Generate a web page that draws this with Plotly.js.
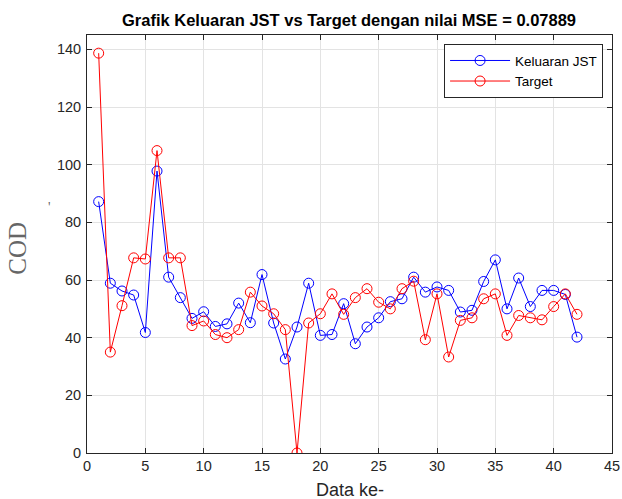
<!DOCTYPE html>
<html>
<head>
<meta charset="utf-8">
<script src="https://cdn.plot.ly/plotly-3.0.1.min.js"></script>
<style>html,body{margin:0;padding:0;background:#fff;}#chart{width:622px;height:499px;}</style>
</head>
<body>
<div id="chart"></div>
<script>
const dataIndex = Array.from({length: 42}, (_, i) => i + 1);
const keluaranJST = [87.2, 58.9, 56.2, 54.8, 41.8, 97.8, 61.0, 53.9, 46.7, 49.0,
  43.9, 44.8, 52.0, 45.2, 61.9, 45.1, 32.6, 43.7, 58.9, 40.8,
  41.1, 51.8, 37.9, 43.7, 46.9, 52.5, 53.5, 61.0, 55.8, 57.6,
  56.4, 48.9, 49.5, 59.5, 67.0, 50.0, 60.7, 50.8, 56.4, 56.4,
  55.0, 40.2];
const target = [138.7, 35.0, 51.1, 67.7, 67.3, 104.9, 67.7, 67.7, 44.2, 45.8,
  41.1, 40.0, 42.8, 55.8, 51.0, 48.3, 42.8, 0, 45.1, 48.3,
  55.2, 48.1, 53.9, 57.0, 52.3, 50.0, 57.0, 59.6, 39.3, 55.2,
  33.3, 46.0, 46.9, 53.5, 55.2, 40.8, 47.7, 46.9, 46.2, 50.8,
  55.2, 48.1];
const seriesNames = ['Keluaran JST', 'Target'];
const xTicks = [0, 5, 10, 15, 20, 25, 30, 35, 40, 45];
const yTicks = [0, 20, 40, 60, 80, 100, 120, 140];

const mk = (y, name, color) => ({
  x: dataIndex, y: y, name: name, type: 'scatter', mode: 'lines+markers',
  line: {color: color, width: 1},
  marker: {symbol: 'circle-open', size: 10, color: color, line: {width: 1, color: color}}
});

const sans = 'Liberation Sans, Arial, sans-serif';
const axisCommon = {
  showline: true, mirror: 'ticks', linecolor: '#262626', linewidth: 1,
  ticks: 'inside', ticklen: 5, tickcolor: '#262626',
  showgrid: true, gridcolor: '#e3e3e3', gridwidth: 1, zeroline: false,
  tickfont: {family: sans, size: 14.5, color: '#262626'}
};

const layout = {
  width: 622, height: 499,
  margin: {l: 87, r: 10, t: 35, b: 46},
  paper_bgcolor: '#fff', plot_bgcolor: '#fff',
  showlegend: true,
  title: {
    text: '<b>Grafik Keluaran JST vs Target dengan nilai MSE = 0.07889</b>',
    font: {family: sans, size: 16.5, color: '#000'},
    x: 349/622, xanchor: 'center', y: 1 - 20/499, yanchor: 'middle', yref: 'container'
  },
  xaxis: Object.assign({}, axisCommon, {
    range: [0, 45], tickvals: xTicks, ticktext: xTicks.map(String)
  }),
  yaxis: Object.assign({}, axisCommon, {
    range: [0, 145], tickvals: yTicks, ticktext: yTicks.map(String), ticklabelstandoff: 2
  }),
  legend: {
    x: 0.983, xanchor: 'right', y: 0.978, yanchor: 'top',
    bgcolor: '#fff', bordercolor: '#262626', borderwidth: 1,
    font: {family: sans, size: 13.5, color: '#000'},
    itemwidth: 60, tracegroupgap: 0
  },
  annotations: [
    {text: 'COD', xref: 'paper', yref: 'paper', x: (18 - 87) / 525, y: (452.6 - 248.5) / 417.6,
     xanchor: 'center', yanchor: 'middle', textangle: -90, showarrow: false,
     font: {family: 'Liberation Serif, Times New Roman, serif', size: 25, color: '#666'}},
    {text: 'Data ke-', xref: 'paper', yref: 'paper', x: (350 - 87) / 525, y: (452.6 - 490) / 417.6,
     xanchor: 'center', yanchor: 'middle', showarrow: false,
     font: {family: sans, size: 18, color: '#262626'}},
    {text: "'", xref: 'paper', yref: 'paper', x: (46 - 87) / 525, y: (452.6 - 207) / 417.6,
     showarrow: false, font: {family: 'Liberation Serif, serif', size: 14, color: '#666'}}
  ]
};

Plotly.newPlot('chart', [mk(keluaranJST, seriesNames[0], '#0000ff'), mk(target, seriesNames[1], '#ff0000')], layout, {displayModeBar: false, staticPlot: true});
</script>
</body>
</html>
